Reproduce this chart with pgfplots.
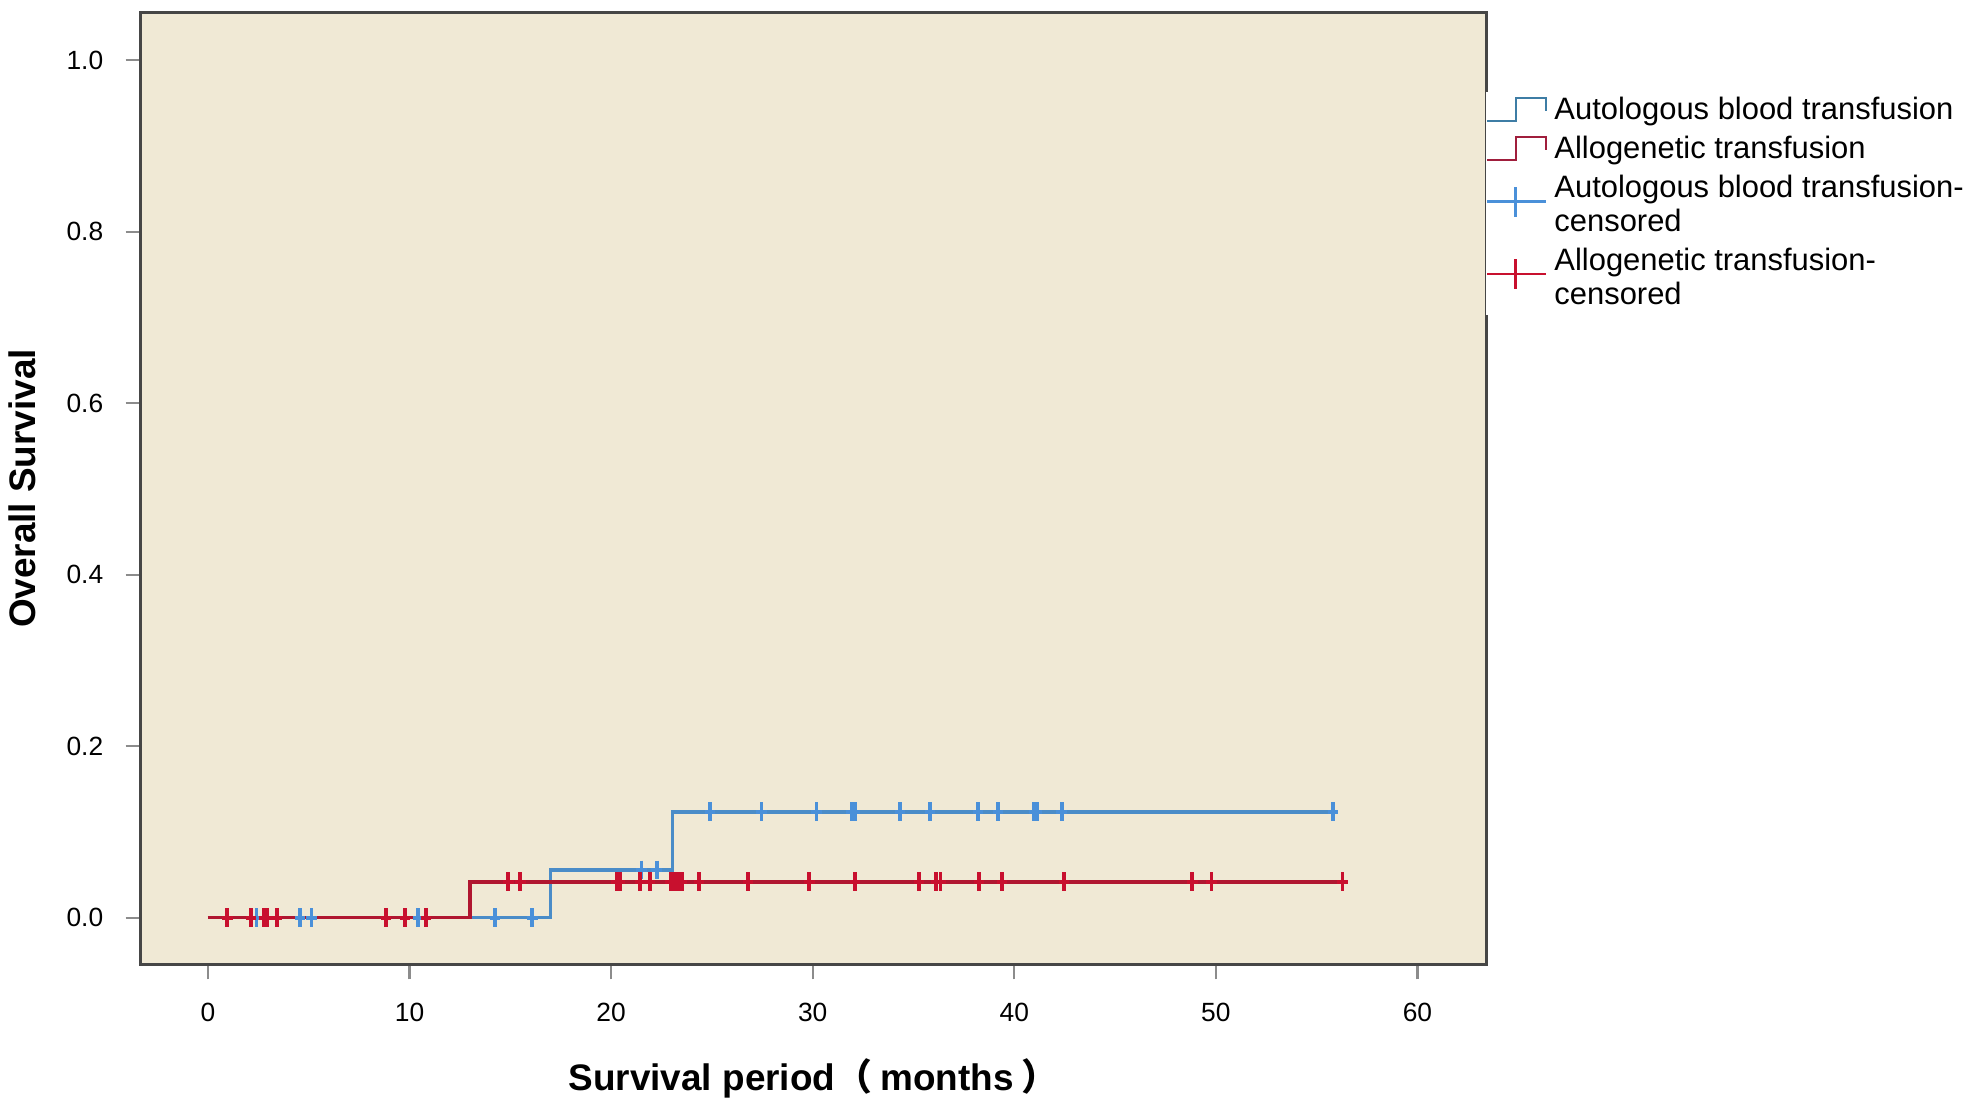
\documentclass[border=0pt]{standalone}
\usepackage{fontspec}
\setmainfont{Liberation Sans}
\newfontfamily\cjk{Noto Sans CJK SC}
\usepackage{pgfplots}
\pgfplotsset{compat=1.18}
\definecolor{bgbeige}{RGB}{240,233,213}
\definecolor{framegray}{RGB}{70,70,70}
\definecolor{tickgray}{RGB}{140,140,140}
\definecolor{bluel}{RGB}{74,140,200}
\definecolor{redl}{RGB}{176,22,48}
\definecolor{bluem}{RGB}{74,144,217}
\definecolor{redm}{RGB}{200,16,46}
\definecolor{bluestep}{RGB}{62,125,165}
\definecolor{redstep}{RGB}{160,30,60}
\begin{document}
\begin{tikzpicture}
\begin{axis}[
  scale only axis,
  width=13.46cm, height=9.518cm,
  xmin=-3.34, xmax=63.43,
  ymin=-0.0545, ymax=1.0556,
  xtick={0,10,20,30,40,50,60},
  ytick={0,0.2,0.4,0.6,0.8,1.0},
  xtick pos=bottom, ytick pos=left,
  tick align=outside,
  major tick length=0.15cm,
  every tick/.style={color=tickgray, line width=0.6pt},
  axis line style={draw=framegray, line width=0.7pt},
  axis background/.style={fill=bgbeige},
  tick label style={font=\fontsize{7.5}{8}\selectfont},
  /pgf/number format/assume math mode=true,
  yticklabel style={/pgf/number format/fixed, /pgf/number format/fixed zerofill, /pgf/number format/precision=1, xshift=-0.1cm},
  xticklabel style={yshift=-0.11cm},
  xlabel={\fontsize{10.5}{12}\selectfont\bfseries Survival period{\cjk （}\hspace{0.22em}months\hspace{0.22em}{\cjk ）}},
  ylabel={\fontsize{10.5}{12}\selectfont\bfseries Overall Survival},
  every axis x label/.style={at={(axis description cs:0.5,-0.133)}, anchor=base, font=\fontsize{10.5}{12}\selectfont\bfseries},
  every axis y label/.style={at={(axis description cs:-0.0784,0.5)}, anchor=base, rotate=90, font=\fontsize{10.5}{12}\selectfont\bfseries},
  legend cell align=left,
  legend style={at={(axis description cs:1,0.9175)}, anchor=north west, draw=none, fill=white,
    inner sep=0pt, xshift=-0.01cm, font=\fontsize{8.8}{9.6}\selectfont,
    cells={align=left}, nodes={inner xsep=2.2pt, inner ysep=1.6pt}, row sep=0pt, column sep=0pt},
]
\addlegendimage{legend image code/.code={\draw[bluestep, line width=0.6pt] (0cm,-0.098cm) -- (0.283cm,-0.098cm) -- (0.283cm,0.135cm) -- (0.583cm,0.135cm) -- (0.583cm,0cm);}}
\addlegendentry{Autologous blood transfusion}
\addlegendimage{legend image code/.code={\draw[redstep, line width=0.6pt] (0cm,-0.098cm) -- (0.283cm,-0.098cm) -- (0.283cm,0.135cm) -- (0.583cm,0.135cm) -- (0.583cm,0cm);}}
\addlegendentry{Allogenetic transfusion}
\addlegendimage{legend image code/.code={\draw[bluem, line width=0.6pt] (0cm,0.045cm) -- (0.583cm,0.045cm); \draw[bluem, line width=0.8pt] (0.283cm,-0.105cm) -- (0.283cm,0.195cm);}}
\addlegendentry{Autologous blood transfusion-\\censored}
\addlegendimage{legend image code/.code={\draw[redm, line width=0.6pt] (0cm,0.05cm) -- (0.583cm,0.05cm); \draw[redm, line width=0.8pt] (0.283cm,-0.10cm) -- (0.283cm,0.20cm);}}
\addlegendentry{Allogenetic transfusion-\\censored}

\addplot[const plot, bluel, line width=1.0pt, forget plot] coordinates {(0,0) (17.0,0.0556) (23.05,0.1234) (55.82,0.1234)};
\addplot[const plot, redl, line width=1.0pt, forget plot] coordinates {(0,0) (13.0,0.0417) (56.28,0.0417)};

\addplot[only marks, mark=+, mark size=2.7pt, mark options={xscale=0.55, line width=1.1pt, bluem}, forget plot] coordinates {
(2.41,0) (4.56,0) (5.14,0) (10.43,0) (14.24,0) (16.09,0)
(21.51,0.0556) (22.26,0.0556)
(24.9,0.1234) (27.46,0.1234) (30.19,0.1234) (31.93,0.1234) (32.09,0.1234) (34.33,0.1234) (35.81,0.1234) (38.21,0.1234) (39.2,0.1234) (40.98,0.1234) (41.12,0.1234) (42.35,0.1234) (55.82,0.1234)
};
\addplot[only marks, mark=+, mark size=2.7pt, mark options={xscale=0.55, line width=1.1pt, redm}, forget plot] coordinates {
(0.96,0) (2.13,0) (2.8,0) (2.95,0) (3.44,0) (8.83,0) (9.77,0) (10.81,0)
(14.9,0.0417) (15.5,0.0417) (20.27,0.0417) (20.44,0.0417) (21.43,0.0417) (21.94,0.0417) (22.95,0.0417) (23.16,0.0417) (23.33,0.0417) (23.5,0.0417) (24.35,0.0417) (26.8,0.0417) (29.83,0.0417) (32.09,0.0417) (35.28,0.0417) (36.11,0.0417) (36.34,0.0417) (38.24,0.0417) (39.4,0.0417) (42.46,0.0417) (48.83,0.0417) (49.78,0.0417) (56.28,0.0417)
};
\end{axis}
\pgfresetboundingbox
\path[use as bounding box] ([xshift=-1.406cm,yshift=-1.386cm]current axis.south west) rectangle ++(19.69cm,11.03cm);
\end{tikzpicture}
\end{document}
